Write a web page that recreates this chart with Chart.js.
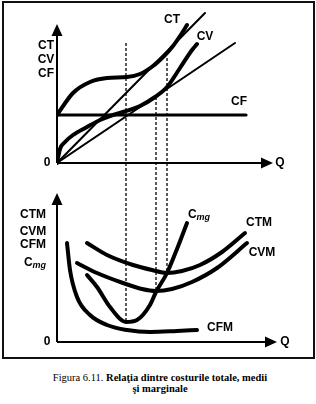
<!DOCTYPE html>
<html>
<head>
<meta charset="utf-8">
<script src="https://cdn.jsdelivr.net/npm/chart.js@4"></script>
<style>
  body { margin: 0; background: #fff; width: 316px; height: 404px; position: relative; overflow: hidden; }
  #frame { position: absolute; left: 2px; top: 1px; width: 313px; height: 358px; box-sizing: border-box; border: 2px solid #111; }
  #chart { position: absolute; left: 0; top: 0; }
  #caption { position: absolute; left: 2px; top: 372px; width: 316px; text-align: center;
    font: 10.5px/11px "Liberation Serif", "Times New Roman", serif; color: #000; }
</style>
</head>
<body>
<div id="frame"></div>
<canvas id="chart" width="316" height="360"></canvas>
<div id="caption">Figura 6.11. <b>Relaţia dintre costurile totale, medii<br>şi marginale</b></div>
<script>
// Upper panel: total, variable and fixed cost
const cfQ = [0, 18.9];
const cfY = [4.8, 4.8];
const ctQ = [0, 1.6, 3.3, 5.0, 7.0, 8.3, 9.6, 10.8, 11.6, 12.5, 13.0];
const ctY = [4.8, 7.0, 8.1, 8.5, 8.6, 8.9, 9.7, 10.8, 11.7, 13.0, 13.8];
const cvQ = [0, 0.3, 0.8, 1.6, 3.0, 4.3, 5.3, 6.6, 8.3, 9.8, 11.0, 12.3, 13.5, 14.0];
const cvY = [0, 1.4, 2.1, 2.8, 3.6, 4.3, 4.7, 5.1, 5.7, 6.6, 7.6, 9.5, 11.3, 11.9];
// rays from the origin (tangent to CT and CV)
const rayCtQ = [0, 14.8];
const rayCtY = [0, 15.0];
const rayCvQ = [0, 17.8];
const rayCvY = [0, 12.0];

// Lower panel: average and marginal cost
const ctmQ = [3.0, 5.0, 7.6, 9.5, 11.0, 12.5, 14.3, 16.5, 18.8];
const ctmY = [9.9, 8.7, 7.7, 7.2, 6.9, 7.1, 7.7, 9.0, 10.9];
const cvmQ = [2.0, 4.0, 6.6, 8.5, 9.9, 11.5, 13.5, 16.0, 19.0];
const cvmY = [7.9, 6.9, 5.9, 5.3, 5.1, 5.3, 6.0, 7.4, 9.9];
const cfmQ = [1.0, 1.3, 2.0, 3.3, 5.0, 7.0, 9.3, 12.0, 14.0];
const cfmY = [9.9, 7.2, 4.5, 2.7, 1.7, 1.2, 1.0, 1.1, 1.2];
const cmgQ = [3.0, 4.0, 5.3, 6.9, 8.0, 9.3, 9.9, 11.0, 12.0, 13.0];
const cmgY = [6.7, 5.5, 3.5, 2.0, 2.2, 3.7, 5.0, 6.9, 9.3, 11.9];

// Dashed guides linking the two panels
const guideQ = [6.9, 9.9, 11.0];
const guideTop = [12.0, 6.6, 10.5];
const guideBottom = [2.0, 5.1, 6.9];

// Text labels (axis = which panel)
const textLabels = [
  { t: "CT", x: -1.1, y: 11.7, axis: "yTop" },
  { t: "CV", x: -1.1, y: 10.3, axis: "yTop" },
  { t: "CF", x: -1.1, y: 8.9, axis: "yTop" },
  { t: "0", x: -1.0, y: 0, axis: "yTop" },
  { t: "Q", x: 22.3, y: 0, axis: "yTop" },
  { t: "CT", x: 11.5, y: 14.3, axis: "yTop" },
  { t: "CV", x: 14.8, y: 12.6, axis: "yTop" },
  { t: "CF", x: 18.2, y: 6.1, axis: "yTop" },
  { t: "CTM", x: -2.4, y: 12.7, axis: "yBot" },
  { t: "CVM", x: -2.4, y: 11.0, axis: "yBot" },
  { t: "CFM", x: -2.4, y: 9.7, axis: "yBot" },
  { t: "C", sub: "mg", x: -2.2, y: 7.9, axis: "yBot" },
  { t: "0", x: -1.0, y: 0, axis: "yBot" },
  { t: "Q", x: 22.8, y: 0, axis: "yBot" },
  { t: "C", sub: "mg", x: 14.2, y: 12.7, axis: "yBot" },
  { t: "CTM", x: 20.2, y: 11.9, axis: "yBot" },
  { t: "CVM", x: 20.5, y: 8.9, axis: "yBot" },
  { t: "CFM", x: 16.3, y: 1.4, axis: "yBot" },
];

function curve(qs, ys, axis, width) {
  return {
    data: qs.map((q, i) => ({ x: q, y: ys[i] })),
    yAxisID: axis,
    showLine: true,
    borderColor: "#000",
    borderWidth: width,
    borderCapStyle: "round",
    pointRadius: 0,
    cubicInterpolationMode: "monotone",
    fill: false,
  };
}

function arrowHead(ctx, x, y, dx, dy) {
  const len = 12, half = 5.5;
  const px = -dy, py = dx;
  ctx.beginPath();
  ctx.moveTo(x, y);
  ctx.lineTo(x - dx * len + px * half, y - dy * len + py * half);
  ctx.lineTo(x - dx * len - px * half, y - dy * len - py * half);
  ctx.closePath();
  ctx.fill();
}

const diagram = {
  id: "diagram",
  beforeDatasetsDraw(chart) {
    const { ctx, scales } = chart;
    ctx.save();
    ctx.setLineDash([3, 2]);
    ctx.lineWidth = 1.3;
    ctx.strokeStyle = "#000";
    guideQ.forEach((q, i) => {
      const px = scales.x.getPixelForValue(q);
      ctx.beginPath();
      ctx.moveTo(px, scales.yTop.getPixelForValue(guideTop[i]));
      ctx.lineTo(px, scales.yBot.getPixelForValue(guideBottom[i]));
      ctx.stroke();
    });
    ctx.restore();
  },
  afterDraw(chart) {
    const { ctx, scales } = chart;
    const x = scales.x;
    ctx.save();
    ctx.strokeStyle = "#000";
    ctx.fillStyle = "#000";
    ctx.lineWidth = 2;
    // axes with arrows
    [["yTop", 13.9, 21.6], ["yBot", 14.9, 22.0]].forEach(([id, yEnd, xEnd]) => {
      const s = scales[id];
      const ox = x.getPixelForValue(0), oy = s.getPixelForValue(0);
      const ty = s.getPixelForValue(yEnd), tx = x.getPixelForValue(xEnd);
      ctx.beginPath();
      ctx.moveTo(ox, oy);
      ctx.lineTo(ox, ty + 8);
      ctx.moveTo(ox, oy);
      ctx.lineTo(tx - 8, oy);
      ctx.stroke();
      arrowHead(ctx, ox, ty, 0, -1);
      arrowHead(ctx, tx, oy, 1, 0);
    });
    // labels
    ctx.textBaseline = "middle";
    ctx.textAlign = "left";
    const main = 'bold 12px "Liberation Sans", Arial, sans-serif';
    const small = 'italic bold 9px "Liberation Sans", Arial, sans-serif';
    textLabels.forEach(l => {
      const px = x.getPixelForValue(l.x), py = scales[l.axis].getPixelForValue(l.y);
      ctx.font = main;
      const w1 = ctx.measureText(l.t).width;
      let w2 = 0;
      if (l.sub) { ctx.font = small; w2 = ctx.measureText(l.sub).width; }
      const left = px - (w1 + w2) / 2;
      ctx.font = main;
      ctx.fillText(l.t, left, py);
      if (l.sub) { ctx.font = small; ctx.fillText(l.sub, left + w1, py + 3); }
    });
    ctx.restore();
  },
};

new Chart(document.getElementById("chart"), {
  type: "scatter",
  data: {
    datasets: [
      curve(cfQ, cfY, "yTop", 3.2),
      curve(rayCtQ, rayCtY, "yTop", 2),
      curve(rayCvQ, rayCvY, "yTop", 2),
      curve(ctQ, ctY, "yTop", 4),
      curve(cvQ, cvY, "yTop", 4),
      curve(ctmQ, ctmY, "yBot", 4),
      curve(cvmQ, cvmY, "yBot", 4),
      curve(cfmQ, cfmY, "yBot", 4),
      curve(cmgQ, cmgY, "yBot", 4),
    ],
  },
  options: {
    responsive: false,
    animation: false,
    devicePixelRatio: 1,
    layout: { padding: { left: 57, right: 44, top: 10, bottom: 18 } },
    plugins: { legend: { display: false }, tooltip: { enabled: false } },
    scales: {
      x: { type: "linear", display: false, min: 0, max: 21.5 },
      y: { type: "linear", display: false },
      yTop: { type: "linear", display: false, position: "left", min: -17.9, max: 15.3 },
      yBot: { type: "linear", display: false, position: "left", min: 0, max: 33.2 },
    },
  },
  plugins: [diagram],
});
</script>
</body>
</html>
